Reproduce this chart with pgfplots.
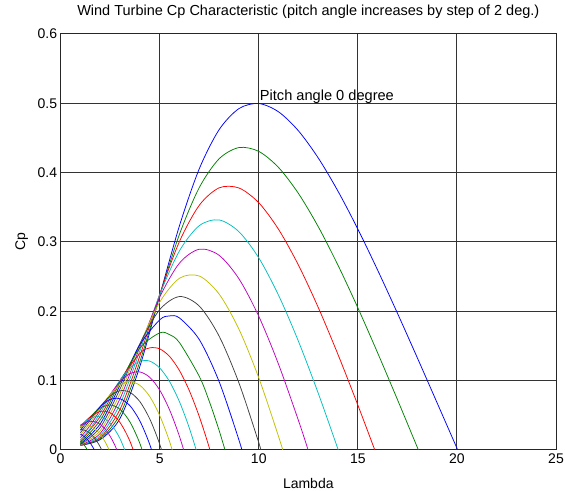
\documentclass[border=0pt]{standalone}
\usepackage{fontspec}
\setmainfont{Liberation Sans}
\usepackage{pgfplots}
\pgfplotsset{compat=1.18}
% MATLAB's classic line colour order
\definecolor{mblue}{rgb}{0,0,1}
\definecolor{mgreen}{rgb}{0,0.5,0}
\definecolor{mred}{rgb}{1,0,0}
\definecolor{mcyan}{rgb}{0,0.75,0.75}
\definecolor{mmagenta}{rgb}{0.75,0,0.75}
\definecolor{myellow}{rgb}{0.75,0.75,0}
\definecolor{mgray}{rgb}{0.25,0.25,0.25}
\pgfplotsset{cp/.style={line width=0.75pt, smooth}}

\begin{document}
\begin{tikzpicture}
\begin{axis}[
  scale only axis,
  width=495.4pt, height=416pt,
  xmin=0, xmax=25, ymin=0, ymax=0.6,
  xtick={0,5,10,15,20,25},
  ytick={0,0.1,0.2,0.3,0.4,0.5,0.6},
  grid=major,
  major grid style={draw=black!80, line width=1pt},
  axis line style={draw=black!85, line width=1pt},
  major tick length=0pt,
  tick label style={font=\fontsize{14}{16}\selectfont},
  /pgf/number format/assume math mode=true,
  title={Wind Turbine Cp Characteristic (pitch angle increases by step of 2 deg.)},
  title style={font=\fontsize{14.5}{16}\selectfont, at={(axis description cs:0.5,1.0303)}, anchor=base},
  xlabel={Lambda},
  xlabel style={font=\fontsize{14}{16}\selectfont, inner sep=1pt, at={(axis description cs:0.5,-0.0915)}, anchor=base},
  ylabel={Cp},
  ylabel style={font=\fontsize{14}{16}\selectfont, at={(axis description cs:-0.0586,0.5)}, anchor=south},
]

% pitch 0
\addplot[cp, mblue] coordinates {(1,0.0068)(2,0.0150)(3,0.0456)(4,0.1205)(5,0.2225)(6,0.3236)(7,0.4057)(8,0.4620)(9,0.4924)(10,0.4997)(11,0.4877)(12,0.4604)(13,0.4213)(14,0.3732)(15,0.3186)(16,0.2594)(17,0.1972)(18,0.1331)(19,0.0680)(20,0.0027)(20.5,-0.0298)};
% pitch 2
\addplot[cp, mgreen] coordinates {(1,0.0068)(2,0.0162)(3,0.0515)(4,0.1274)(5,0.2224)(6,0.3112)(7,0.3786)(8,0.4200)(9,0.4362)(10,0.4307)(11,0.4074)(12,0.3701)(13,0.3222)(14,0.2664)(15,0.2051)(16,0.1400)(17,0.0726)(18,0.0039)(18.5,-0.0307)};
% pitch 4
\addplot[cp, mred] coordinates {(1,0.0068)(2,0.0180)(3,0.0587)(4,0.1357)(5,0.2244)(6,0.3008)(7,0.3530)(8,0.3781)(9,0.3779)(10,0.3566)(11,0.3182)(12,0.2668)(13,0.2057)(14,0.1376)(15,0.0648)(16,-0.0110)};
% pitch 6
\addplot[cp, mcyan] coordinates {(1,0.0069)(2,0.0206)(3,0.0664)(4,0.1431)(5,0.2239)(6,0.2873)(7,0.3236)(8,0.3318)(9,0.3148)(10,0.2771)(11,0.2231)(12,0.1570)(13,0.0820)(14,0.0010)(14.5,-0.0412)};
% pitch 8
\addplot[cp, mmagenta] coordinates {(1,0.0070)(2,0.0239)(3,0.0741)(4,0.1486)(5,0.2203)(6,0.2696)(7,0.2896)(8,0.2808)(9,0.2469)(10,0.1929)(11,0.1235)(12,0.0428)(12.5,-0.0007)(13,-0.0458)};
% pitch 10
\addplot[cp, myellow] coordinates {(1,0.0073)(2,0.0279)(3,0.0814)(4,0.1523)(5,0.2132)(6,0.2477)(7,0.2509)(8,0.2249)(9,0.1742)(10,0.1041)(11,0.0194)(11.5,-0.0270)};
% pitch 12
\addplot[cp, mgray] coordinates {(1,0.0078)(2,0.0326)(3,0.0881)(4,0.1534)(5,0.2024)(6,0.2213)(7,0.2075)(8,0.1642)(9,0.0967)(10,0.0106)(10.5,-0.0378)};
% pitch 14
\addplot[cp, mblue] coordinates {(1,0.0088)(2,0.0377)(3,0.0937)(4,0.1518)(5,0.1877)(5.5,0.1934)(6,0.1904)(7,0.1592)(8,0.0986)(9,0.0144)(9.5,-0.0347)};
% pitch 16
\addplot[cp, mgreen] coordinates {(1,0.0102)(2,0.0431)(3,0.0979)(4,0.1472)(5,0.1689)(5.5,0.1664)(6,0.1548)(7,0.1061)(7.5,0.0704)(8,0.0282)(8.5,-0.0197)};
% pitch 18
\addplot[cp, mred] coordinates {(1,0.0122)(2,0.0484)(3,0.1004)(4,0.1393)(4.5,0.1473)(5,0.1459)(5.5,0.1349)(6,0.1145)(6.5,0.0853)(7,0.0481)(7.5,0.0037)(8,-0.0471)};
% pitch 20
\addplot[cp, mcyan] coordinates {(1,0.0148)(1.5,0.0312)(2,0.0534)(2.5,0.0779)(3,0.1007)(3.5,0.1182)(4,0.1279)(4.5,0.1282)(5,0.1184)(5.5,0.0987)(6,0.0695)(6.5,0.0313)(7,-0.0147)};
% pitch 22
\addplot[cp, mmagenta] coordinates {(1,0.0179)(1.5,0.0357)(2,0.0577)(2.5,0.0800)(3,0.0986)(3.5,0.1101)(4,0.1126)(4.5,0.1048)(5,0.0865)(5.5,0.0578)(6,0.0195)(6.5,-0.0276)};
% pitch 24
\addplot[cp, myellow] coordinates {(1,0.0213)(1.5,0.0399)(2,0.0609)(2.5,0.0801)(3,0.0936)(3.5,0.0985)(4,0.0933)(4.5,0.0771)(5,0.0498)(5.5,0.0121)(6,-0.0353)};
% pitch 26
\addplot[cp, mgray] coordinates {(1,0.0249)(1.5,0.0436)(2,0.0627)(2.5,0.0778)(3,0.0855)(3.5,0.0832)(4,0.0698)(4.5,0.0448)(5,0.0085)(5.5,-0.0385)};
% pitch 28
\addplot[cp, mblue] coordinates {(1,0.0285)(1.5,0.0464)(2,0.0626)(2.5,0.0729)(3,0.0739)(3.5,0.0639)(4,0.0419)(4.5,0.0079)(5,-0.0377)};
% pitch 30
\addplot[cp, mgreen] coordinates {(1,0.0317)(1.5,0.0480)(2,0.0604)(2.5,0.0649)(3,0.0587)(3.5,0.0404)(4,0.0095)(4.5,-0.0338)};
% pitch 32
\addplot[cp, mred] coordinates {(1,0.0342)(1.5,0.0479)(2,0.0556)(2.5,0.0536)(3,0.0396)(3.5,0.0126)(4,-0.0276)};
% pitch 34
\addplot[cp, mcyan] coordinates {(1,0.0356)(1.5,0.0458)(2,0.0479)(2.5,0.0387)(3,0.0163)(3.5,-0.0198)};
% pitch 36
\addplot[cp, mmagenta] coordinates {(1,0.0356)(1.25,0.0395)(1.5,0.0413)(1.75,0.0406)(2,0.0370)(2.25,0.0302)(2.5,0.0199)(2.75,0.0061)(3,-0.0113)};
% pitch 38
\addplot[cp, myellow] coordinates {(1,0.0337)(1.25,0.0352)(1.5,0.0341)(1.75,0.0300)(2,0.0226)(2.25,0.0116)(2.5,-0.0030)};
% pitch 40
\addplot[cp, mgray] coordinates {(1,0.0296)(1.25,0.0282)(1.5,0.0237)(1.75,0.0159)(2,0.0044)(2.25,-0.0110)};
% pitch 42
\addplot[cp, mblue] coordinates {(1,0.0229)(1.25,0.0182)(1.5,0.0099)(1.75,-0.0020)};
% pitch 44
\addplot[cp, mgreen] coordinates {(1,0.0132)(1.25,0.0048)(1.5,-0.0076)};

\node[anchor=base west, font=\fontsize{14.6}{16}\selectfont, inner sep=0pt] at (axis cs:10.05,0.504) {Pitch angle 0 degree};

\end{axis}
\pgfresetboundingbox
\path[use as bounding box] ([xshift=-60.6pt,yshift=-41pt]current axis.south west) rectangle ([xshift=9pt,yshift=34pt]current axis.north east);
\end{tikzpicture}
\end{document}
